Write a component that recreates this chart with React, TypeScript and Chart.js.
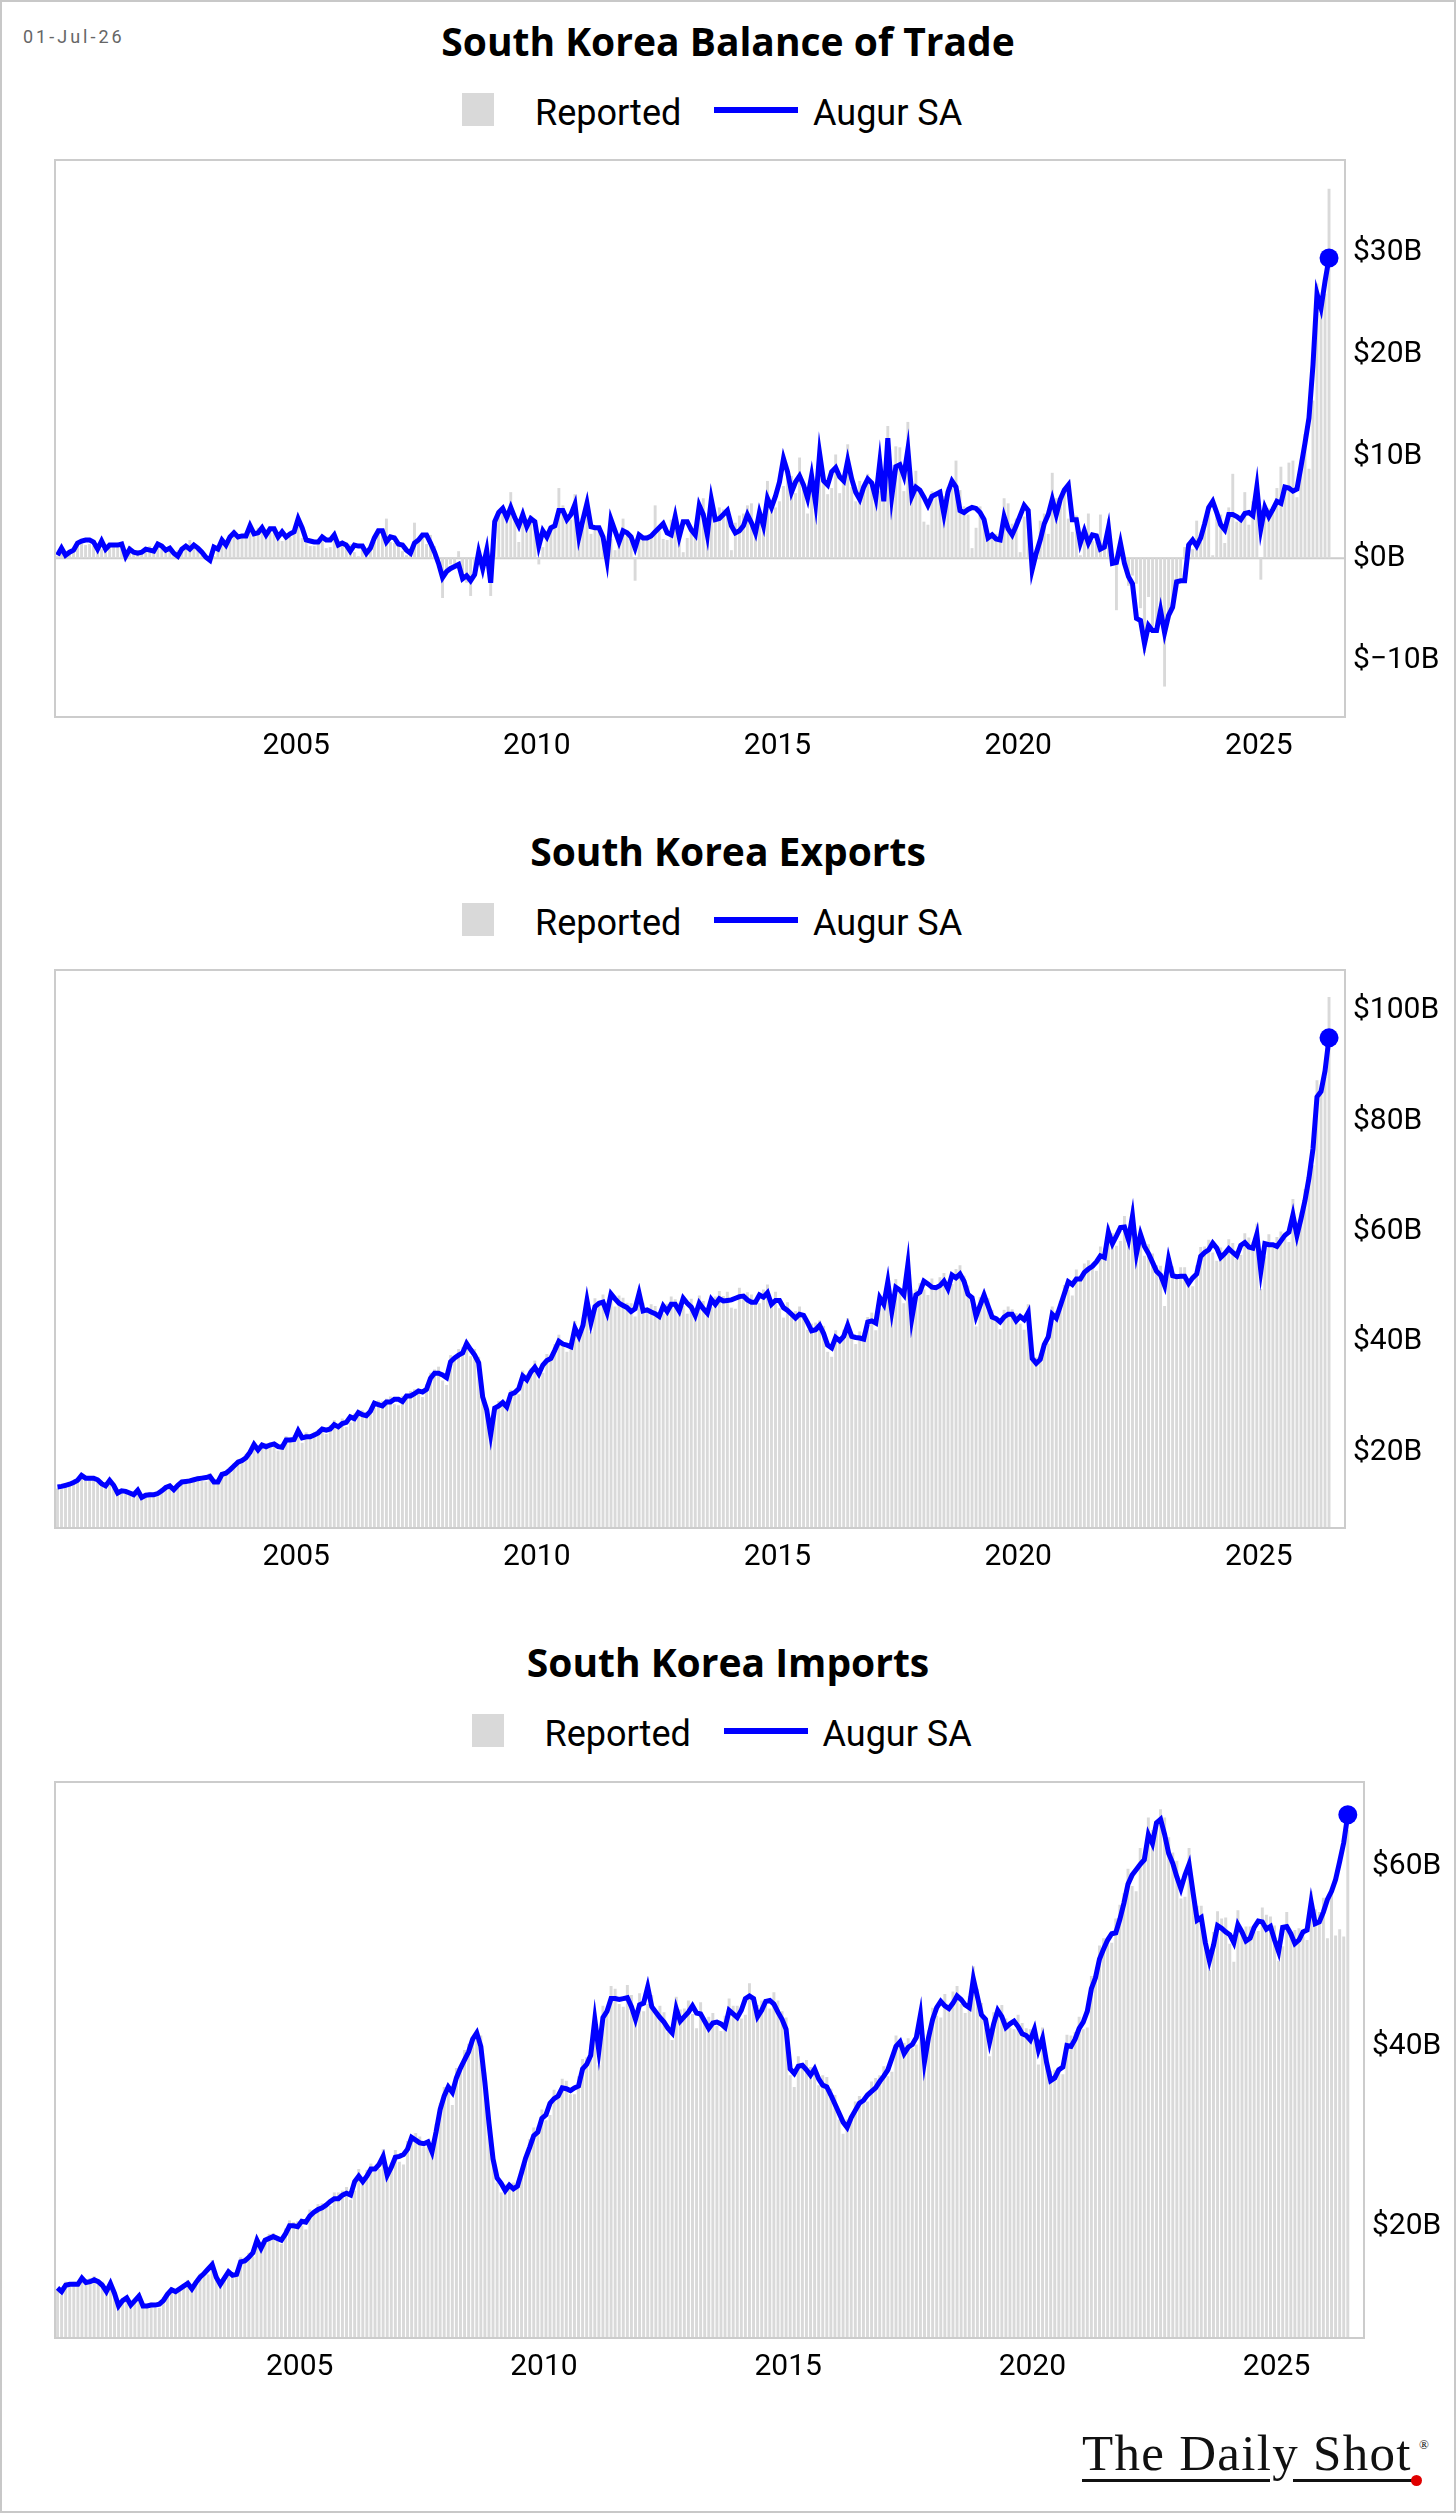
import React, { useEffect, useRef } from "react";
import { Chart, registerables } from "chart.js";

Chart.register(...registerables);

// ---------- data ----------
const START_YEAR = 2000; // first month: Jan 2000, monthly through Jun 2026
const X_MIN = 1999.99;
const X_MAX = 2026.79;
const yearTicks = [2005, 2010, 2015, 2020, 2025];
const balanceTicks = [-10, 0, 10, 20, 30];
const exportsTicks = [20, 40, 60, 80, 100];
const importsTicks = [20, 40, 60];

const balanceSA = [
  0.3, 1.0, 0.3, 0.6, 0.8, 1.5, 1.7, 1.8, 1.8, 1.6, 0.9, 1.7,
  0.9, 1.3, 1.3, 1.3, 1.4, 0.2, 0.9, 0.6, 0.5, 0.6, 0.9, 0.8,
  0.7, 1.4, 1.2, 0.8, 1.0, 0.5, 0.2, 0.9, 1.2, 0.9, 1.3, 1.0,
  0.6, 0.1, -0.2, 1.1, 0.9, 1.8, 1.3, 2.1, 2.5, 2.1, 2.2, 2.2,
  3.2, 2.4, 2.5, 3.0, 2.3, 2.9, 2.9, 2.1, 2.6, 2.1, 2.4, 2.6,
  3.9, 3.0, 1.8, 1.7, 1.6, 1.6, 2.1, 1.8, 1.8, 2.3, 1.3, 1.5,
  1.3, 0.7, 1.3, 1.2, 1.2, 0.5, 1.0, 2.0, 2.7, 2.7, 1.6, 2.1,
  2.0, 1.4, 1.3, 0.8, 0.5, 1.5, 1.8, 2.3, 2.3, 1.5, 0.6, -0.5,
  -1.9, -1.3, -1.0, -0.8, -0.6, -2.0, -1.7, -2.2, -1.6, 0.6, -1.0, 0.8,
  -2.4, 3.6, 4.5, 4.9, 4.0, 5.0, 4.0, 3.2, 4.3, 3.1, 3.9, 3.6,
  1.2, 2.7, 2.1, 3.0, 3.2, 4.7, 4.7, 3.8, 4.3, 5.3, 2.1, 3.8,
  5.4, 3.1, 3.0, 3.0, 2.1, -0.2, 3.8, 2.7, 1.6, 2.7, 2.5, 2.1,
  1.0, 2.3, 2.0, 2.0, 2.2, 2.6, 3.0, 3.4, 2.5, 2.3, 4.1, 2.1,
  3.6, 3.6, 2.8, 2.3, 5.2, 4.3, 2.3, 5.8, 3.8, 3.9, 4.3, 4.7,
  3.2, 2.5, 2.7, 3.2, 4.3, 3.5, 2.5, 4.5, 3.2, 5.9, 5.0, 6.1,
  7.5, 9.8, 8.5, 6.5, 7.5, 8.1, 7.2, 5.9, 8.1, 5.4, 10.3, 7.6,
  7.2, 8.5, 8.9, 8.0, 7.6, 9.6, 7.8, 6.5, 5.8, 7.0, 7.8, 7.4,
  5.9, 9.4, 5.6, 11.8, 6.1, 9.0, 9.2, 8.1, 10.7, 6.1, 7.0, 6.7,
  6.0, 5.2, 6.1, 6.3, 6.5, 4.3, 6.5, 7.6, 7.0, 4.7, 4.5, 4.8,
  5.0, 4.9, 4.5, 3.8, 2.0, 2.3, 1.9, 1.8, 4.1, 2.9, 2.3, 3.2,
  4.2, 5.2, 4.7, -1.1, 0.5, 1.8, 3.4, 4.3, 5.8, 4.3, 5.8, 6.7,
  7.2, 3.8, 3.8, 1.5, 2.7, 1.5, 2.3, 2.2, 0.9, 1.1, 3.0, -0.5,
  -0.4, 1.5, -0.5, -1.8, -2.5, -5.9, -6.1, -8.4, -6.6, -7.1, -7.1, -5.1,
  -7.3, -5.6, -4.8, -2.3, -2.2, -2.2, 1.3, 1.8, 1.2, 2.0, 3.4, 5.0,
  5.6, 4.5, 3.3, 2.8, 4.3, 4.3, 4.1, 3.8, 4.4, 4.5, 4.2, 7.0,
  2.9, 5.0, 4.1, 4.8, 5.6, 5.4, 7.0, 6.9, 6.6, 6.8, 9.0, 11.3,
  13.8, 19.0, 26.0, 24.6, 27.2, 29.5,
];

const balanceReported = [
  0.2, 0.6, 0.5, 0.5, 0.8, 1.3, 1.5, 1.3, 1.4, 1.2, 1.1, 0.9,
  1.0, 1.0, 1.4, 1.4, 1.2, 0.8, 1.2, 0.4, 0.8, 0.6, 1.0, 1.2,
  0.9, 1.0, 1.3, 1.1, 1.0, 0.4, 0.8, 1.0, 1.0, 1.8, 1.2, 0.9,
  0.3, 0.0, -0.1, 0.2, 1.1, 1.7, 1.1, 2.0, 2.8, 2.1, 2.3, 2.6,
  2.7, 2.8, 3.0, 2.8, 2.4, 2.5, 2.7, 2.2, 1.7, 2.3, 2.1, 2.5,
  3.1, 2.0, 1.7, 1.2, 1.2, 1.5, 1.7, 1.0, 1.1, 2.0, 1.1, 1.7,
  1.6, 1.4, 0.6, 0.2, 1.3, 0.3, 0.8, 1.6, 2.7, 2.8, 3.9, 1.6,
  1.5, 1.6, 0.7, 0.3, 1.0, 3.5, 1.9, 2.2, 1.4, 2.3, 1.2, -0.1,
  -3.9, -1.1, -0.6, -0.6, 0.7, -1.5, -2.4, -3.7, -1.2, 0.6, 0.2, 0.8,
  -3.7, 2.9, 4.4, 4.8, 4.1, 6.5, 4.4, 1.6, 3.6, 3.9, 4.2, 3.0,
  -0.6, 1.1, 2.0, 2.9, 3.4, 6.9, 5.2, 3.9, 3.8, 6.3, 1.6, 3.2,
  4.2, 2.4, 3.1, 3.1, 2.0, 0.5, 1.9, 0.8, 2.4, 3.9, 2.6, 1.8,
  -2.2, 2.1, 2.0, 2.3, 2.3, 5.2, 2.7, 1.9, 1.8, 3.8, 3.2, 2.0,
  0.6, 2.0, 3.1, 2.4, 5.2, 5.9, 2.4, 6.1, 3.7, 5.0, 4.8, 4.4,
  0.8, 3.5, 4.2, 4.4, 5.2, 5.4, 2.1, 3.4, 3.4, 7.6, 5.5, 5.0,
  5.6, 7.1, 8.3, 8.1, 6.4, 9.9, 7.3, 4.4, 8.8, 6.9, 9.1, 8.3,
  6.3, 6.9, 10.2, 6.4, 8.2, 11.2, 7.0, 5.6, 7.6, 6.7, 8.3, 7.5,
  5.5, 6.6, 6.3, 13.0, 6.0, 11.0, 10.9, 6.6, 13.4, 6.9, 8.6, 6.9,
  3.6, 3.3, 6.6, 6.5, 6.8, 6.1, 7.0, 6.9, 9.6, 6.7, 5.1, 4.3,
  1.0, 3.0, 5.1, 4.1, 2.3, 2.3, 2.4, 1.7, 5.9, 5.4, 3.4, 3.9,
  0.6, 4.1, 4.6, -1.0, 0.5, 3.7, 4.4, 2.4, 8.4, 5.9, 5.9, 6.8,
  3.9, 2.6, 4.2, 0.3, 2.9, 4.4, 1.7, 1.6, 4.3, 1.7, 3.9, -0.5,
  -5.1, 0.8, 0.1, -2.7, -1.7, -2.5, -4.9, -9.3, -3.8, -6.7, -7.0, -4.7,
  -12.6, -5.3, -4.6, -2.6, -2.1, 1.1, 1.6, 0.9, 3.7, 1.6, 3.6, 4.5,
  0.3, 4.3, 4.3, 1.5, 5.0, 8.3, 3.6, 3.8, 6.5, 3.3, 5.6, 6.6,
  -2.1, 4.3, 4.9, 4.9, 6.9, 9.0, 6.5, 9.4, 9.6, 6.0, 9.7, 12.2,
  8.8, 15.5, 27.0, 24.0, 26.0, 36.3,
];

const exportsSA = [
  13.7, 13.8, 14.0, 14.2, 14.5, 14.9, 15.8, 15.3, 15.3, 15.3, 15.0, 14.3,
  13.9, 14.9, 14.0, 12.6, 13.0, 12.9, 12.6, 12.3, 13.1, 11.8, 12.2, 12.3,
  12.3, 12.5, 13.0, 13.6, 13.9, 13.2, 14.0, 14.6, 14.7, 14.8, 15.0, 15.2,
  15.3, 15.4, 15.6, 14.6, 14.6, 16.0, 16.2, 16.8, 17.5, 18.2, 18.5, 19.0,
  20.0, 21.4, 20.4, 21.3, 21.0, 21.3, 21.5, 21.0, 20.9, 22.2, 22.2, 22.3,
  23.9, 22.6, 22.8, 22.8, 23.1, 23.5, 24.2, 24.0, 24.2, 25.0, 24.6, 25.2,
  25.4, 26.4, 26.1, 27.2, 26.8, 26.6, 27.4, 28.9, 28.6, 28.4, 29.1, 29.1,
  29.6, 29.6, 29.2, 30.2, 30.2, 30.6, 31.1, 30.9, 31.4, 33.4, 34.3, 34.3,
  34.0, 33.5, 36.4, 37.1, 37.6, 38.0, 39.7, 38.6, 37.6, 36.2, 30.0, 27.7,
  23.2, 28.0, 28.4, 29.0, 28.2, 30.5, 30.8, 31.5, 33.8, 33.1, 34.5, 35.4,
  34.2, 35.8, 36.6, 37.0, 38.5, 40.1, 39.6, 39.4, 39.1, 42.5, 41.0, 43.0,
  47.5, 43.5, 46.4, 47.0, 47.2, 45.3, 48.7, 47.8, 47.0, 46.6, 46.2, 45.5,
  46.0, 48.8, 45.6, 45.8, 45.4, 45.1, 44.6, 46.5, 45.5, 46.8, 46.8, 45.6,
  47.9, 47.0, 46.3, 44.8, 47.0, 46.0, 45.2, 47.7, 46.8, 47.8, 47.4, 47.5,
  47.6, 47.9, 48.2, 48.3, 47.6, 47.2, 47.2, 48.5, 48.1, 48.9, 46.8, 47.5,
  47.5, 46.2, 45.7, 45.0, 44.3, 45.0, 44.8, 43.5, 42.0, 42.2, 43.0, 41.5,
  39.4, 38.9, 40.8, 40.2, 41.0, 43.0, 41.0, 40.8, 40.7, 40.5, 43.6, 43.8,
  43.4, 48.0, 46.8, 50.9, 45.5, 49.9, 49.4, 48.5, 54.0, 44.3, 48.5, 49.0,
  51.0, 50.5, 49.9, 49.8, 50.2, 51.0, 49.6, 52.1, 51.6, 52.3, 51.0, 48.6,
  48.0, 44.6, 46.6, 48.5, 46.5, 44.5, 44.2, 43.6, 44.5, 45.0, 45.0, 43.8,
  44.6, 44.0, 45.3, 37.0, 36.1, 36.8, 39.5, 40.9, 45.0, 44.3, 46.5, 48.7,
  50.9, 50.4, 51.4, 51.4, 52.6, 53.2, 53.7, 54.5, 55.6, 55.3, 59.9, 57.8,
  59.2, 60.7, 60.8, 58.5, 62.8, 56.0, 59.5, 57.3, 56.0, 54.4, 52.8, 52.1,
  50.2, 55.0, 52.0, 51.8, 51.9, 51.9, 50.6, 51.6, 52.3, 55.5, 56.2, 56.7,
  57.9, 57.0, 55.3, 56.0, 56.9, 56.2, 55.6, 57.5, 58.0, 57.2, 57.0, 59.5,
  52.8, 57.8, 57.6, 57.6, 57.3, 58.3, 59.3, 59.9, 63.0, 59.3, 62.3, 65.6,
  69.7, 75.0, 84.4, 85.4, 89.1, 95.1,
];

const exportsReported = [
  13.4, 13.3, 14.4, 14.1, 14.7, 15.1, 15.6, 14.9, 15.6, 15.7, 15.2, 14.8,
  13.6, 14.2, 14.4, 12.6, 13.3, 13.1, 12.4, 12.0, 13.4, 12.1, 12.4, 12.8,
  11.9, 12.0, 13.5, 13.6, 14.3, 13.4, 13.8, 14.2, 15.1, 15.3, 15.2, 15.7,
  14.8, 14.7, 16.2, 14.6, 15.0, 16.3, 16.0, 16.3, 18.0, 18.7, 18.8, 19.7,
  19.4, 20.6, 21.2, 21.3, 21.6, 21.8, 21.2, 20.3, 21.5, 22.9, 22.6, 23.1,
  23.2, 21.7, 23.6, 22.8, 23.7, 24.1, 23.9, 23.3, 24.9, 25.8, 25.1, 26.1,
  24.6, 25.4, 27.0, 27.2, 27.6, 27.3, 27.1, 28.0, 29.4, 29.3, 29.7, 30.1,
  28.7, 28.5, 30.2, 30.2, 31.1, 31.4, 30.8, 30.0, 32.3, 34.4, 35.0, 35.5,
  33.0, 32.2, 37.6, 37.1, 38.7, 39.0, 39.3, 37.4, 38.7, 37.3, 30.6, 28.6,
  22.5, 26.9, 29.3, 29.0, 29.0, 31.3, 30.5, 30.5, 34.8, 34.1, 35.2, 36.6,
  33.2, 34.4, 37.8, 37.0, 39.6, 41.3, 39.2, 38.2, 40.3, 43.8, 41.8, 44.4,
  46.1, 41.8, 47.9, 47.0, 48.6, 46.7, 48.2, 46.4, 48.4, 48.0, 47.1, 47.0,
  44.6, 46.9, 47.1, 45.8, 46.8, 46.5, 44.2, 45.1, 46.9, 48.2, 47.7, 47.1,
  46.5, 45.1, 47.8, 44.8, 48.4, 47.4, 44.7, 46.3, 48.2, 49.2, 48.3, 49.1,
  46.2, 46.0, 49.8, 48.3, 49.0, 48.6, 46.7, 47.0, 49.5, 50.4, 47.7, 49.1,
  46.1, 44.4, 47.2, 45.0, 45.6, 46.4, 44.4, 42.2, 43.3, 43.5, 43.9, 42.9,
  38.2, 37.3, 42.1, 40.2, 42.2, 44.3, 40.6, 39.6, 41.9, 41.7, 44.5, 45.3,
  42.1, 46.1, 48.4, 50.9, 46.9, 51.4, 48.9, 47.0, 55.6, 45.6, 49.5, 50.6,
  49.5, 48.5, 51.5, 49.8, 51.7, 52.5, 49.1, 50.5, 53.2, 53.9, 52.0, 50.2,
  46.6, 42.8, 48.1, 48.5, 47.9, 45.8, 43.8, 42.3, 45.8, 46.4, 45.9, 45.2,
  43.3, 42.2, 46.8, 37.0, 37.2, 37.9, 39.1, 39.7, 46.4, 45.6, 47.4, 50.3,
  49.4, 48.4, 53.1, 51.4, 54.2, 54.8, 53.2, 52.9, 57.3, 57.0, 61.1, 59.7,
  57.4, 58.3, 62.8, 58.5, 64.7, 57.7, 58.9, 55.6, 57.7, 56.0, 53.9, 53.8,
  46.5, 52.8, 53.7, 51.8, 53.5, 53.5, 50.1, 50.1, 53.9, 57.2, 57.3, 58.5,
  56.2, 54.7, 57.1, 56.0, 58.6, 57.9, 55.0, 55.8, 59.7, 58.9, 58.1, 61.4,
  49.6, 55.5, 59.5, 57.6, 59.0, 60.0, 58.7, 58.1, 65.9, 61.1, 63.5, 67.7,
  71.0, 72.0, 87.4, 85.0, 88.0, 102.5,
];

const importsSA = [
  13.2, 12.8, 13.5, 13.6, 13.6, 13.6, 14.3, 13.8, 13.9, 14.1, 13.9, 13.5,
  12.8, 13.7, 12.6, 11.2, 11.8, 12.1, 11.3, 11.8, 12.3, 11.2, 11.2, 11.3,
  11.3, 11.4, 11.8, 12.5, 13.0, 12.8, 13.1, 13.4, 13.7, 13.1, 13.8, 14.4,
  14.8, 15.3, 15.8, 14.4, 13.6, 14.3, 15.0, 14.6, 14.7, 16.1, 16.2, 16.6,
  17.1, 18.5, 17.6, 18.5, 18.7, 18.9, 18.7, 18.5, 19.2, 20.1, 20.1, 20.0,
  20.6, 20.5, 21.2, 21.6, 21.9, 22.1, 22.4, 22.8, 23.1, 23.1, 23.5, 23.7,
  23.5, 25.0, 25.6, 25.0, 25.6, 26.4, 26.4, 26.9, 27.8, 25.7, 26.6, 27.7,
  27.8, 28.0, 28.6, 29.9, 29.6, 29.3, 29.2, 29.4, 28.3, 30.5, 33.0, 34.5,
  35.5, 34.9, 36.5, 37.6, 38.5, 39.4, 40.8, 41.5, 40.0, 36.0, 31.5, 27.5,
  25.4, 24.8, 24.0, 24.6, 24.2, 24.5, 26.0, 27.6, 28.8, 30.1, 30.5, 32.0,
  32.4, 33.7, 34.2, 34.5, 35.4, 35.3, 35.1, 35.4, 35.6, 37.5, 38.0, 39.0,
  43.0, 39.5, 43.2, 43.9, 45.3, 45.3, 45.2, 45.3, 45.4, 44.4, 43.0, 44.6,
  44.8, 46.6, 44.4, 43.8, 43.2, 42.7, 42.0, 41.5, 44.2, 42.8, 43.3, 43.8,
  44.5, 43.7, 43.6, 42.8, 42.0, 42.6, 42.7, 42.5, 42.1, 44.0, 43.6, 43.2,
  44.0, 45.3, 45.6, 45.3, 43.3, 44.0, 45.0, 45.1, 44.7, 43.8, 43.0, 41.9,
  37.5, 37.0, 37.8, 37.9, 37.4, 36.8, 37.5, 36.4, 35.7, 35.5, 34.6, 33.6,
  32.6, 31.6, 31.0, 32.1, 32.9, 33.7, 34.0, 34.6, 35.0, 35.4, 36.1, 36.7,
  37.4, 38.7, 40.0, 40.5, 39.2, 39.9, 40.2, 41.0, 43.5, 38.3, 41.0, 43.0,
  44.3, 45.0, 44.5, 44.2, 44.8, 45.6, 45.2, 44.6, 44.3, 47.5, 45.5, 43.5,
  43.0, 40.5, 42.5, 44.0, 43.3, 42.1, 42.5, 42.8, 42.2, 41.4, 41.2, 40.7,
  41.9, 39.6, 40.9, 38.2, 36.2, 36.5, 37.4, 37.7, 40.1, 40.0, 40.8, 42.0,
  42.7, 43.9, 46.4, 47.6, 49.7, 50.8, 51.8, 52.5, 52.6, 54.1, 55.9, 58.0,
  59.0, 59.6, 60.2, 60.7, 63.5, 62.5, 64.8, 65.2, 63.5, 61.4, 60.3, 58.8,
  57.5, 59.0, 60.2, 57.0, 54.0, 54.3, 51.5, 49.5, 51.2, 53.4, 53.1, 52.7,
  52.4, 51.5, 53.5, 52.7, 51.7, 52.0, 53.2, 53.9, 53.8, 53.0, 53.3, 51.8,
  50.5, 53.2, 53.3, 52.5, 51.4, 51.8, 52.7, 52.9, 56.0, 53.6, 53.8, 54.9,
  56.3, 57.2, 58.5, 60.5, 62.6, 65.7,
];

const importsReported = [
  13.0, 12.4, 13.9, 13.6, 13.9, 13.8, 14.2, 13.6, 14.3, 14.5, 14.1, 13.9,
  12.6, 13.2, 13.0, 11.2, 12.1, 12.3, 11.2, 11.6, 12.6, 11.5, 11.4, 11.6,
  11.0, 11.0, 12.2, 12.5, 13.3, 13.0, 13.0, 13.2, 14.1, 13.5, 14.0, 14.8,
  14.5, 14.7, 16.3, 14.4, 13.9, 14.6, 14.9, 14.3, 15.2, 16.6, 16.5, 17.1,
  16.7, 17.8, 18.2, 18.5, 19.2, 19.3, 18.5, 18.1, 19.8, 20.7, 20.5, 20.6,
  20.1, 19.7, 21.9, 21.6, 22.5, 22.6, 22.2, 22.3, 23.8, 23.8, 24.0, 24.4,
  23.0, 24.0, 26.4, 25.0, 26.3, 27.0, 26.1, 26.4, 28.6, 26.5, 27.1, 28.5,
  27.2, 26.9, 29.5, 29.9, 30.4, 30.0, 28.9, 28.8, 29.1, 31.4, 33.7, 35.5,
  34.8, 33.5, 37.6, 37.6, 39.6, 40.3, 40.4, 40.7, 41.2, 37.1, 32.1, 28.3,
  24.9, 23.8, 24.7, 24.6, 24.9, 25.1, 25.7, 27.0, 29.7, 31.0, 31.1, 33.0,
  31.8, 32.4, 35.2, 34.5, 36.4, 36.2, 34.7, 34.7, 36.7, 38.6, 38.8, 40.2,
  42.1, 37.9, 44.5, 43.9, 46.7, 46.4, 44.7, 44.4, 46.8, 45.7, 43.9, 45.9,
  43.9, 44.7, 45.7, 43.8, 44.5, 43.8, 41.6, 40.7, 45.5, 44.1, 44.2, 45.1,
  43.6, 42.0, 44.9, 42.8, 43.3, 43.7, 42.3, 41.7, 43.4, 45.3, 44.5, 44.5,
  43.1, 43.5, 47.0, 45.3, 44.6, 45.1, 44.6, 44.2, 46.0, 45.1, 43.9, 43.2,
  36.8, 35.5, 38.9, 37.9, 38.5, 37.7, 37.1, 35.7, 36.8, 36.6, 35.3, 34.6,
  31.9, 30.3, 31.9, 32.1, 33.9, 34.5, 33.7, 33.9, 36.1, 36.5, 36.8, 37.8,
  36.7, 37.2, 41.2, 40.5, 40.4, 40.9, 39.8, 40.2, 42.8, 39.4, 41.8, 44.3,
  43.4, 43.2, 45.8, 44.2, 46.1, 46.7, 44.7, 43.7, 45.6, 48.9, 46.4, 44.8,
  42.1, 38.9, 43.8, 44.0, 44.6, 43.1, 42.1, 41.9, 43.5, 42.6, 42.0, 41.9,
  41.1, 38.0, 42.1, 38.2, 37.3, 37.4, 37.0, 36.9, 41.3, 41.2, 41.6, 43.3,
  41.9, 42.1, 47.8, 47.6, 51.2, 52.0, 51.3, 51.5, 54.2, 55.7, 57.0, 59.7,
  57.8, 57.2, 62.0, 60.7, 65.4, 64.0, 64.2, 66.3, 65.4, 63.2, 61.5, 60.6,
  56.4, 56.6, 62.0, 57.0, 55.6, 55.6, 51.0, 48.5, 52.7, 55.0, 54.2, 54.3,
  51.4, 49.4, 55.1, 52.7, 53.3, 53.3, 52.7, 52.8, 55.4, 54.6, 54.4, 53.4,
  49.5, 51.1, 54.9, 52.5, 52.9, 53.1, 52.2, 51.8, 57.2, 55.2, 54.9, 56.5,
  52.0, 57.5, 52.3, 53.0, 52.2, 64.0,
];

// ---------- styling ----------
const BLUE = "#0000ff";
const GREY = "#d9d9d9";
const FRAME = "#cccccc";
const N = balanceSA.length;
const monthX = Array.from({ length: N }, (_, i) => START_YEAR + (i + 0.5) / 12);

function fmtMoney(v: number) {
  return v < 0 ? `$\u2212${Math.abs(v)}B` : `$${v}B`;
}

const framePlugin = {
  id: "frame",
  beforeDatasetsDraw(chart: any, _args: any, opts: any) {
    if (!opts || !opts.zeroLine) return;
    const { ctx, chartArea: a, scales } = chart;
    const y = scales.y.getPixelForValue(0);
    ctx.save();
    ctx.strokeStyle = FRAME;
    ctx.lineWidth = 2;
    ctx.beginPath();
    ctx.moveTo(a.left, y);
    ctx.lineTo(a.right, y);
    ctx.stroke();
    ctx.restore();
  },
  afterDatasetsDraw(chart: any) {
    const { ctx, chartArea: a } = chart;
    ctx.save();
    ctx.strokeStyle = FRAME;
    ctx.lineWidth = 2;
    ctx.strokeRect(a.left, a.top, a.right - a.left, a.bottom - a.top);
    ctx.restore();
  },
};

const TOP_PAD = 30;
const X_AXIS_H = 60;

function makeChart(
  canvas: HTMLCanvasElement,
  reported: number[],
  sa: number[],
  yMin: number,
  yMax: number,
  yTicks: number[],
  yAxisWidth: number,
  zeroLine: boolean
) {
  const tickFont = { family: "Roboto", size: 30 };
  return new Chart(canvas, {
    type: "bar",
    data: {
      datasets: [
        {
          type: "line",
          label: "Augur SA",
          data: monthX.map((x, i) => ({ x, y: sa[i] })),
          borderColor: BLUE,
          backgroundColor: BLUE,
          borderWidth: 5,
          pointRadius: (c: any) => (c.dataIndex === N - 1 ? 9.5 : 0),
          pointHoverRadius: 0,
          pointBorderWidth: 0,
          pointBackgroundColor: BLUE,
          tension: 0,
          order: 0,
        } as any,
        {
          type: "bar",
          label: "Reported",
          data: monthX.map((x, i) => ({ x, y: reported[i] })),
          backgroundColor: GREY,
          borderWidth: 0,
          barPercentage: 0.9,
          categoryPercentage: 0.8,
          order: 1,
        } as any,
      ],
    },
    options: {
      animation: false,
      responsive: false,
      devicePixelRatio: 1,
      events: [],
      layout: { padding: { left: 55, right: 0, top: TOP_PAD, bottom: 0 } },
      plugins: {
        legend: { display: false },
        title: { display: false },
        tooltip: { enabled: false },
        frame: { zeroLine },
      } as any,
      scales: {
        x: {
          type: "linear",
          min: X_MIN,
          max: X_MAX,
          offset: false,
          grid: { display: false, drawTicks: false },
          border: { display: false },
          afterBuildTicks: (s: any) => {
            s.ticks = yearTicks.map((v) => ({ value: v }));
          },
          afterFit: (s: any) => {
            s.height = X_AXIS_H;
          },
          ticks: {
            autoSkip: false,
            maxRotation: 0,
            padding: 11,
            color: "#000",
            font: tickFont,
            callback: (v: any) => String(v),
          },
        },
        y: {
          type: "linear",
          position: "right",
          min: yMin,
          max: yMax,
          grid: { display: false, drawTicks: false },
          border: { display: false },
          afterBuildTicks: (s: any) => {
            s.ticks = yTicks.map((v) => ({ value: v }));
          },
          afterFit: (s: any) => {
            s.width = yAxisWidth;
          },
          ticks: {
            padding: 8,
            color: "#000",
            font: tickFont,
            callback: (v: any) => fmtMoney(Number(v)),
          },
        },
      },
    } as any,
    plugins: [framePlugin as any],
  });
}

// ---------- layout (plot top / plot height in page pixels) ----------
const panels = [
  { title: "South Korea Balance of Trade", dy: 0, legendDx: 0, plotTop: 160, plotH: 557 },
  { title: "South Korea Exports", dy: 810, legendDx: 0, plotTop: 970, plotH: 558 },
  { title: "South Korea Imports", dy: 1621, legendDx: 9.5, plotTop: 1782, plotH: 556 },
];

export default function App() {
  const r1 = useRef<HTMLCanvasElement>(null);
  const r2 = useRef<HTMLCanvasElement>(null);
  const r3 = useRef<HTMLCanvasElement>(null);
  const refs = [r1, r2, r3];

  useEffect(() => {
    document.body.style.margin = "0";
    document.body.style.overflow = "hidden";
    const charts = [
      makeChart(r1.current!, balanceReported, balanceSA, -15.59, 39.13, balanceTicks, 111, true),
      makeChart(r2.current!, exportsReported, exportsSA, 6.26, 107.4, exportsTicks, 111, false),
      makeChart(r3.current!, importsReported, importsSA, 7.65, 69.33, importsTicks, 92, false),
    ];
    return () => charts.forEach((c) => c.destroy());
  }, []);

  const abs = (o: React.CSSProperties): React.CSSProperties => ({ position: "absolute", ...o });
  const legendText: React.CSSProperties = {
    fontFamily: "Roboto, sans-serif",
    fontSize: 36,
    lineHeight: "36px",
    color: "#000",
    whiteSpace: "nowrap",
  };

  return (
    <div style={abs({ left: 0, top: 0, width: 1456, height: 2513, background: "#fff", overflow: "hidden" })}>
      <div
        style={abs({
          left: 23,
          top: 28,
          fontFamily: "Roboto, sans-serif",
          fontSize: 18,
          lineHeight: "18px",
          letterSpacing: 3,
          color: "#666",
          whiteSpace: "nowrap",
        })}
      >
        01-Jul-26
      </div>

      {panels.map((p, k) => {
        const h = TOP_PAD + p.plotH + X_AXIS_H;
        return (
          <React.Fragment key={p.title}>
            <div
              style={abs({
                left: 0,
                top: 21.4 + p.dy,
                width: 1456,
                textAlign: "center",
                fontFamily: '"Open Sans", sans-serif',
                fontWeight: 700,
                fontSize: 39,
                lineHeight: "39px",
                color: "#000",
                whiteSpace: "nowrap",
              })}
            >
              {p.title}
            </div>
            <div style={abs({ left: 462 + p.legendDx, top: 93 + p.dy, width: 32, height: 33, background: GREY })} />
            <div style={{ ...abs({ left: 535 + p.legendDx, top: 94.7 + p.dy }), ...legendText }}>Reported</div>
            <div style={abs({ left: 714 + p.legendDx, top: 107 + p.dy, width: 84, height: 6, background: BLUE })} />
            <div style={{ ...abs({ left: 813 + p.legendDx, top: 94.7 + p.dy }), ...legendText }}>Augur SA</div>
            <canvas
              ref={refs[k]}
              width={1456}
              height={h}
              style={abs({ left: 0, top: p.plotTop - TOP_PAD, width: 1456, height: h })}
            />
          </React.Fragment>
        );
      })}

      {/* The Daily Shot logo */}
      <div
        style={abs({
          left: 1082,
          top: 2428,
          fontFamily: '"Liberation Serif", "DejaVu Serif", serif',
          fontSize: 51,
          lineHeight: "51px",
          letterSpacing: 1.3,
          color: "#111",
          whiteSpace: "nowrap",
        })}
      >
        The Daily Shot
      </div>
      <div
        style={abs({
          left: 1419,
          top: 2438,
          fontFamily: '"Liberation Serif", serif',
          fontSize: 13,
          lineHeight: "13px",
          color: "#111",
        })}
      >
        ®
      </div>
      <div style={abs({ left: 1082, top: 2479, width: 188, height: 3, background: "#111" })} />
      <div style={abs({ left: 1293, top: 2479, width: 120, height: 3, background: "#111" })} />
      <div style={abs({ left: 1411, top: 2475, width: 11, height: 11, borderRadius: "50%", background: "#e00000" })} />

      <div
        style={abs({
          left: 0,
          top: 0,
          width: 1456,
          height: 2513,
          boxSizing: "border-box",
          border: "2px solid #c8c8c8",
          pointerEvents: "none",
        })}
      />
    </div>
  );
}
